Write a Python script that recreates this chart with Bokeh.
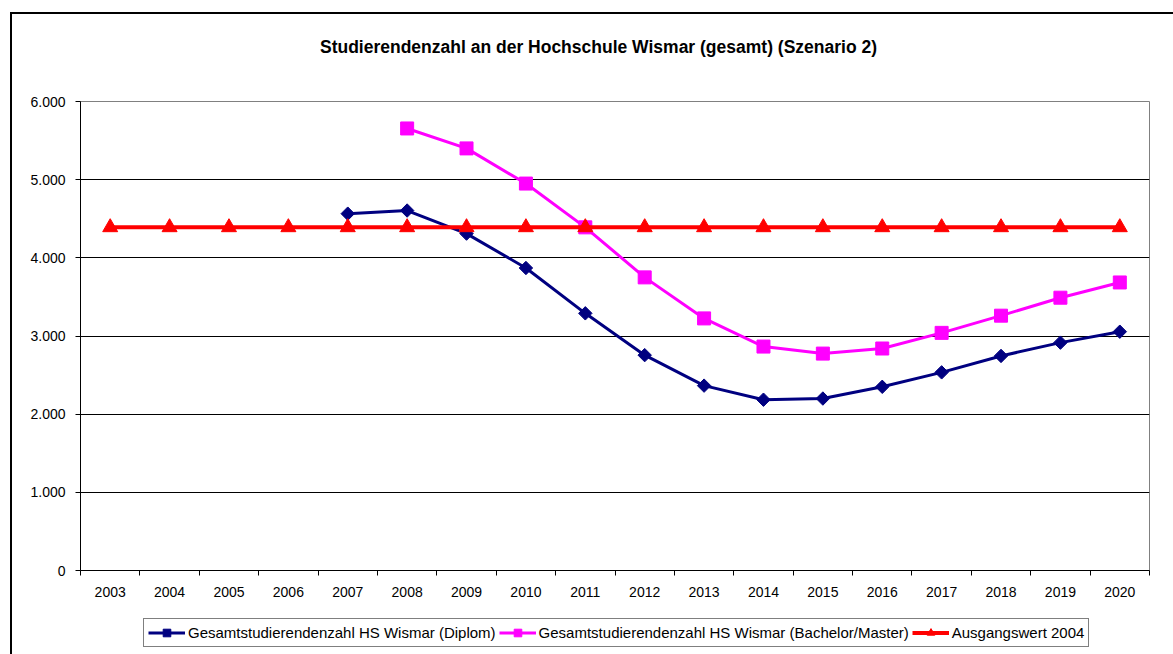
import numpy as np
from bokeh.plotting import figure
from bokeh.layouts import column
from bokeh.models import (Range1d, FixedTicker, Legend, LegendItem, ColumnDataSource, Div)
from bokeh.embed import file_html
from bokeh.resources import INLINE

# ---------------- data ----------------
title_text = "Studierendenzahl an der Hochschule Wismar (gesamt) (Szenario 2)"
years_all = [2003, 2004, 2005, 2006, 2007, 2008, 2009, 2010, 2011,
             2012, 2013, 2014, 2015, 2016, 2017, 2018, 2019, 2020]
years_diplom = [2007, 2008, 2009, 2010, 2011, 2012, 2013,
                2014, 2015, 2016, 2017, 2018, 2019, 2020]
diplom = [4565, 4605, 4310, 3870, 3290, 2755, 2365,
          2185, 2200, 2350, 2535, 2745, 2915, 3055]
years_bama = [2008, 2009, 2010, 2011, 2012, 2013, 2014,
              2015, 2016, 2017, 2018, 2019, 2020]
bama = [5655, 5400, 4950, 4390, 3750, 3225, 2865,
        2775, 2840, 3040, 3260, 3490, 3685]
ausgang = [4390, 4390, 4390, 4390, 4390, 4390, 4390, 4390, 4390,
           4390, 4390, 4390, 4390, 4390, 4390, 4390, 4390, 4390]
y_ticks = [0, 1000, 2000, 3000, 4000, 5000, 6000]
y_tick_labels = ["0", "1.000", "2.000", "3.000", "4.000", "5.000", "6.000"]
series_names = ["Gesamtstudierendenzahl HS Wismar (Diplom)",
                "Gesamtstudierendenzahl HS Wismar (Bachelor/Master)",
                "Ausgangswert 2004"]

FONT = "Liberation Sans"

title_div = Div(text=title_text, width=1161, height=50, margin=0,
                styles={"font-family": FONT, "font-size": "17.5px", "font-weight": "bold",
                        "color": "black", "text-align": "center", "line-height": "20px",
                        "position": "relative", "left": "6px", "top": "23px"})

p = figure(frame_width=1069, frame_height=469, output_backend="svg", toolbar_location=None,
           title=None,
           x_range=Range1d(years_all[0] - 0.5, years_all[-1] + 0.5),
           y_range=Range1d(y_ticks[0], y_ticks[-1]),
           min_border_left=68, min_border_right=24,
           min_border_top=37, min_border_bottom=40)
p.margin = 0
p.background_fill_color = "white"
p.border_fill_color = "white"
p.outline_line_color = "#808080"
p.outline_line_width = 1

# axes
p.xaxis.ticker = FixedTicker(ticks=years_all,
                             minor_ticks=[y - 0.5 for y in years_all] + [years_all[-1] + 0.5])
p.xaxis.major_label_overrides = {y: str(y) for y in years_all}
p.xaxis.major_tick_out = 0
p.xaxis.major_tick_in = 0
p.xaxis.minor_tick_out = 5
p.xaxis.minor_tick_in = 0
p.xaxis.minor_tick_line_color = "black"
p.xaxis.axis_line_color = "black"
p.xaxis.major_label_standoff = 11
p.xaxis.major_label_text_font = FONT
p.xaxis.major_label_text_font_size = "14px"
p.xaxis.major_label_text_color = "black"

p.yaxis.ticker = FixedTicker(ticks=y_ticks)
p.yaxis.major_label_overrides = dict(zip(y_ticks, y_tick_labels))
p.yaxis.major_tick_out = 5
p.yaxis.major_tick_in = 0
p.yaxis.minor_tick_line_color = None
p.yaxis.axis_line_color = "black"
p.yaxis.major_tick_line_color = "black"
p.yaxis.major_label_standoff = 10
p.yaxis.major_label_text_font = FONT
p.yaxis.major_label_text_font_size = "14px"
p.yaxis.major_label_text_color = "black"

p.xgrid.grid_line_color = None
p.ygrid.ticker = FixedTicker(ticks=y_ticks[1:])
p.ygrid.grid_line_color = "black"
p.ygrid.grid_line_width = 1

# series
src_d = ColumnDataSource(dict(x=years_diplom, y=diplom))
src_b = ColumnDataSource(dict(x=years_bama, y=bama))
src_a = ColumnDataSource(dict(x=years_all, y=ausgang))


def add_series(fig):
    l1 = fig.line("x", "y", source=src_d, line_color="#000080", line_width=3)
    m1 = fig.scatter("x", "y", source=src_d, marker="square", angle=np.pi / 4, size=9.5,
                     fill_color="#000080", line_color="#000080")
    l2 = fig.line("x", "y", source=src_b, line_color="#FF00FF", line_width=3)
    m2 = fig.scatter("x", "y", source=src_b, marker="square", size=13,
                     fill_color="#FF00FF", line_color="#FF00FF")
    l3 = fig.line("x", "y", source=src_a, line_color="#FF0000", line_width=4)
    m3 = fig.scatter("x", "y", source=src_a, marker="triangle", size=15,
                     fill_color="#FF0000", line_color="#FF0000")
    return [[l1, m1], [l2, m2], [l3, m3]]


add_series(p)

# legend strip below the chart (its own small canvas, series kept out of its view)
pl = figure(width=1161, height=44, output_backend="svg", toolbar_location=None, title=None,
            x_axis_type=None, y_axis_type=None,
            x_range=Range1d(0, 1), y_range=Range1d(-2, -1),
            min_border_left=0, min_border_right=0, min_border_top=0, min_border_bottom=0)
pl.margin = 0
pl.outline_line_color = None
pl.background_fill_color = "white"
pl.border_fill_color = "white"
leg_renderers = add_series(pl)

legend = Legend(items=[LegendItem(label=name, renderers=rs)
                       for name, rs in zip(series_names, leg_renderers)],
                orientation="horizontal", location=(63, 7))
legend.label_text_font = FONT
legend.label_text_font_size = "15px"
legend.label_text_color = "black"
legend.glyph_width = 37
legend.glyph_height = 19
legend.label_height = 19
legend.label_standoff = 3
legend.spacing = 3
legend.padding = 4
legend.margin = 0
legend.border_line_color = "black"
legend.border_line_width = 1
legend.background_fill_color = "white"
legend.background_fill_alpha = 1
pl.add_layout(legend, "center")

root = column(title_div, p, pl, spacing=0,
              styles={"border-left": "2px solid black", "border-top": "2px solid black",
                      "margin-left": "10px", "margin-top": "12px"})

open("out.html", "w").write(file_html(root, INLINE))
